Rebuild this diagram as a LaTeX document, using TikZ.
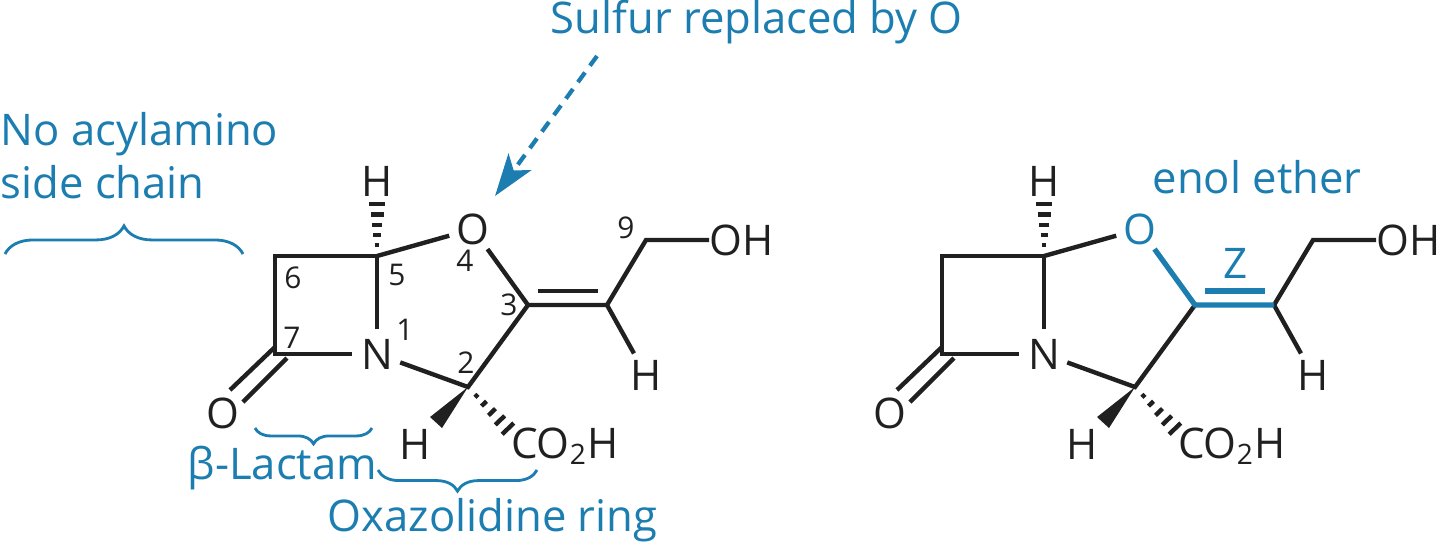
\documentclass[tikz,border=0pt]{standalone}
\usepackage{fontspec}
\setmainfont{Open Sans}
\usetikzlibrary{arrows.meta,calc,decorations.pathreplacing}
\definecolor{noteblue}{RGB}{27,125,176}
\definecolor{bondblack}{RGB}{32,32,32}
\tikzset{
  bond/.style={draw=bondblack,line width=1.25pt,line join=miter},
  hotbond/.style={draw=noteblue,line width=1.5pt,line join=miter},
  atom/.style={circle,inner sep=0pt,minimum size=0.48cm,text=bondblack,font=\fontsize{12}{12}\selectfont},
  txt/.style={inner sep=0pt,text=bondblack,font=\fontsize{12}{12}\selectfont},
  num/.style={inner sep=0pt,text=bondblack,font=\fontsize{8.5}{9}\selectfont},
  note/.style={inner sep=0pt,align=left,text=noteblue,font=\fontsize{12.4}{15}\selectfont},
  brc/.style={draw=noteblue,line width=0.8pt,decorate},
}
\newcommand{\hashbond}[2]{\foreach \pos/\half in {.18/.6pt,.34/1pt,.51/1.4pt,.68/1.85pt,.85/2.3pt}
  \draw[bond] ($(#1)!\pos!(#2)!\half!90:(#2)$) -- ($(#1)!\pos!(#2)!\half!-90:(#2)$);}
\newcommand{\penem}[2]{
  \coordinate (c5) at (377,256);
  \coordinate (c6) at (275,256);
  \coordinate (c7) at (275,354);
  \coordinate (c2) at (468,387);
  \coordinate (c3) at (528,305);
  \coordinate (c8) at (607,305);
  \coordinate (c9) at (646,240);
  \coordinate (d1) at (538,291);
  \coordinate (d2) at (598,291);
  \coordinate (k1) at (275,347);
  \coordinate (k2) at (230,390);
  \coordinate (k3) at (287,358);
  \coordinate (k4) at (243,402);
  \coordinate (wa) at (430,417);
  \coordinate (wb) at (442,428);
  \coordinate (hashtop) at (377,195);
  \coordinate (hashacid) at (515,436);
  \node[atom] (n1) at (377,354) {N};
  \node[atom,text=#1] (o4) at (473,229) {O};
  \node[atom] (o7) at (223,413) {O};
  \node[atom] (h5) at (377,181) {H};
  \node[atom] (h2) at (415,444) {H};
  \node[atom] (h8) at (646,375) {H};
  \node[txt,anchor=west] (oh) at (709,240) {OH};
  \node[txt] (acid) at (565,446) {CO\textsubscript{2}H};
  \draw[bond] (n1) -- (c5) -- (c6) -- (c7) -- (n1);
  \draw[bond] (c5) -- (o4);
  \draw[bond] (n1) -- (c2) -- (c3);
  \draw[bond] (c8) -- (c9) -- (oh.west);
  \draw[bond] (c8) -- (h8);
  \draw[bond] (k1) -- (k2);
  \draw[bond] (k3) -- (k4);
  \draw[#2] (o4) -- (c3) -- (c8);
  \draw[#2] (d1) -- (d2);
  \fill[bondblack] (c2) -- (wa) -- (wb) -- cycle;
  \hashbond{c5}{hashtop}
  \hashbond{c2}{hashacid}
}

\begin{document}
\begin{tikzpicture}[x=0.01cm,y=-0.01cm]
  \useasboundingbox (0,0) rectangle (1440,544);
  \begin{scope}[name prefix=l-]
    \penem{bondblack}{bond}
  \end{scope}
  \begin{scope}[name prefix=r-,shift={(667,0)}]
    \penem{noteblue}{hotbond}
  \end{scope}
  \node[num] (n9) at (626,228) {9};
  \node[num] (n6) at (293,278) {6};
  \node[num] (n5) at (397,275) {5};
  \node[num] (n4) at (465,261) {4};
  \node[num] (n3) at (509,305) {3};
  \node[num] (n7) at (292,338) {7};
  \node[num] (n1) at (405,330) {1};
  \node[num] (n2) at (466,363) {2};
  \node[note,anchor=west] (sulfur) at (550,22) {Sulfur replaced by O};
  \node[note,anchor=north west] (chain) at (0,112) {No acylamino\\side chain};
  \node[note,anchor=west] (lactam) at (187,468) {β-Lactam};
  \node[note,anchor=west] (oxa) at (327,520) {Oxazolidine ring};
  \node[note,anchor=west] (enol) at (1152,177) {enol ether};
  \node[note,font=\fontsize{12}{12}\selectfont] (zlabel) at (1236,263) {Z};
  \coordinate (dashfrom) at (597,56);
  \coordinate (dashto) at (495,196);
  \draw[noteblue,line width=1.2pt,dash pattern=on 3.4pt off 2.4pt,-{Stealth[length=12pt,width=8pt,inset=3pt]}] (dashfrom) -- (dashto);
  \coordinate (ba) at (5,254);
  \coordinate (bb) at (243,254);
  \coordinate (bc) at (372,428);
  \coordinate (bd) at (255,428);
  \coordinate (be) at (537,470);
  \coordinate (bf) at (378,470);
  \draw[brc,decoration={brace,amplitude=8pt}] (ba) -- (bb);
  \draw[brc,decoration={brace,amplitude=4.5pt}] (bc) -- (bd);
  \draw[brc,decoration={brace,amplitude=6pt}] (be) -- (bf);
\end{tikzpicture}
\end{document}
